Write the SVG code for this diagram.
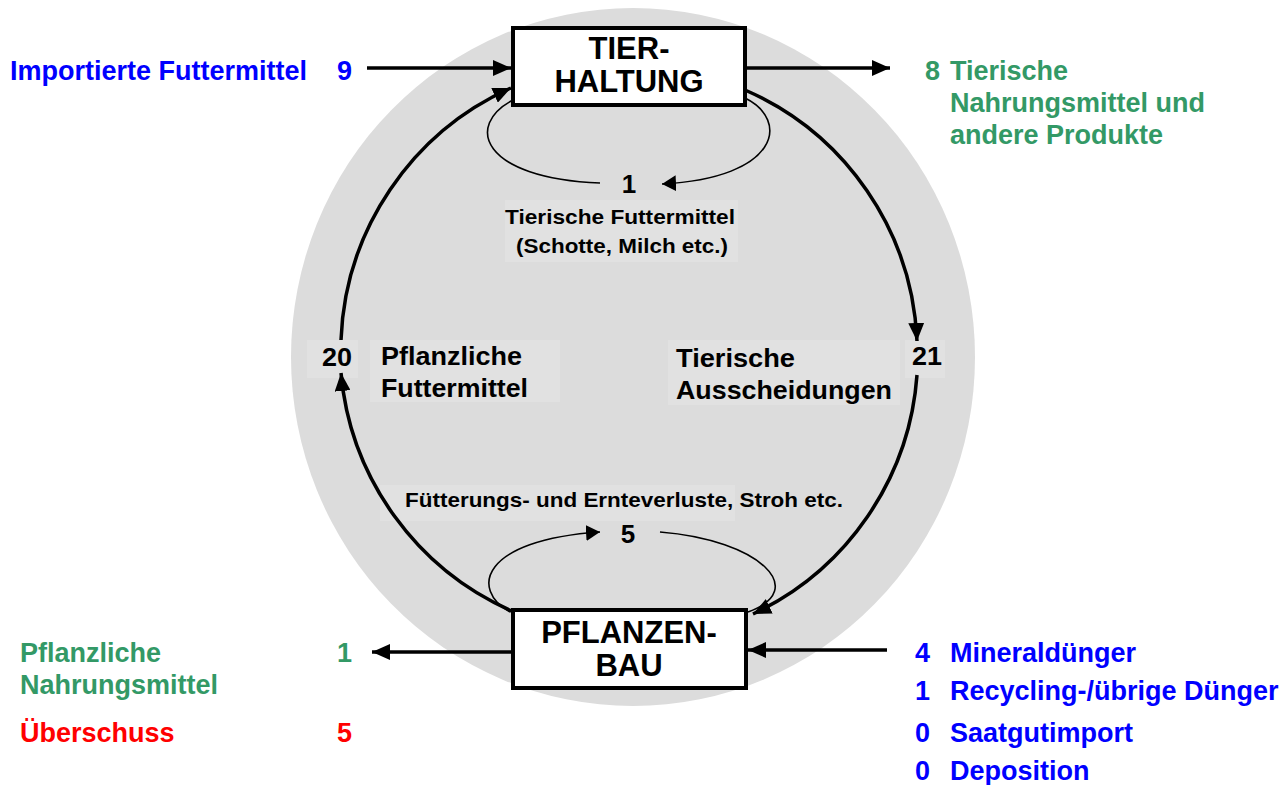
<svg xmlns="http://www.w3.org/2000/svg" width="1284" height="785" viewBox="0 0 1284 785">
<defs>
<style>
text{font-family:"Liberation Sans",Arial,sans-serif;font-weight:bold}
.big{font-size:27px}
.box{font-size:31px;fill:#000;text-anchor:middle}
.mid{font-size:26px;fill:#000}
.sm{font-size:21px;fill:#000}
.blue{fill:#0000ff}
.green{fill:#339966}
.red{fill:#ff0000}
.conn{fill:none;stroke:#000;stroke-width:3.5}
.thin{fill:none;stroke:#000;stroke-width:1.6}
.bg{fill:#e1e1e1}
.node{fill:#fff;stroke:#000;stroke-width:4}
</style>
<marker id="ah" markerUnits="userSpaceOnUse" markerWidth="20" markerHeight="16" refX="18" refY="8" orient="auto">
<path d="M0,0 L18,8 L0,16 z" fill="#000"/>
</marker>
<marker id="ahs" markerUnits="userSpaceOnUse" markerWidth="16" markerHeight="16" refX="14" refY="8" orient="auto">
<path d="M0,0 L14,8 L0,16 z" fill="#000"/>
</marker>
</defs>
<rect width="1284" height="785" fill="#fff"/>
<ellipse cx="633" cy="357" rx="342" ry="349" fill="#dcdcdc"/>
<g id="label-bgs">
<rect class="bg" x="307" y="340" width="51" height="38"/>
<rect class="bg" x="370" y="340" width="190" height="62"/>
<rect class="bg" x="668" y="340" width="232" height="65"/>
<rect class="bg" x="905" y="340" width="40" height="38"/>
<rect class="bg" x="505" y="200" width="233" height="62"/>
<rect class="bg" x="380" y="485" width="355" height="36"/>
</g>
<g id="connectors">
<path class="conn" d="M367,68 L511,68" marker-end="url(#ah)"/>
<path class="conn" d="M747,68 L890,68" marker-end="url(#ah)"/>
<path class="conn" d="M512,652 L372,652" marker-end="url(#ah)"/>
<path class="conn" d="M887,650 L748,650" marker-end="url(#ah)"/>
<path class="conn" d="M514,612 A288,288 0 0 1 341,373" marker-end="url(#ah)"/>
<path class="conn" d="M341,340 A288,288 0 0 1 511,88" marker-end="url(#ah)"/>
<path class="conn" d="M745,90 A287,287 0 0 1 917,341" marker-end="url(#ah)"/>
<path class="conn" d="M917,375 A287,287 0 0 1 753,614" marker-end="url(#ah)"/>
<path class="thin" d="M600,183 C480,178 465,125 513,100"/>
<path class="thin" d="M745,98 C790,120 780,178 662,184" marker-end="url(#ahs)"/>
<path class="thin" d="M510,612 C470,590 480,540 600,532" marker-end="url(#ahs)"/>
<path class="thin" d="M660,532 C760,540 810,590 748,612"/>
</g>
<g id="node-tierhaltung">
<rect class="node" x="513" y="28" width="232" height="77"/>
<text class="box" x="629" y="59">TIER-</text>
<text class="box" x="629" y="92">HALTUNG</text>
</g>
<g id="node-pflanzenbau">
<rect class="node" x="513" y="610" width="233" height="78"/>
<text class="box" x="629" y="643">PFLANZEN-</text>
<text class="box" x="629" y="676">BAU</text>
</g>
<g id="labels">
<text class="big blue" x="10" y="80" textLength="297" lengthAdjust="spacingAndGlyphs">Importierte Futtermittel</text>
<text class="big blue" x="337" y="80">9</text>
<text class="big green" x="925" y="80">8</text>
<text class="big green" x="950" y="80">Tierische</text>
<text class="big green" x="950" y="112">Nahrungsmittel und</text>
<text class="big green" x="950" y="144">andere Produkte</text>
<text class="mid" x="629" y="193" text-anchor="middle">1</text>
<text class="sm" x="505" y="224" textLength="230" lengthAdjust="spacingAndGlyphs">Tierische Futtermittel</text>
<text class="sm" x="516" y="253" textLength="212" lengthAdjust="spacingAndGlyphs">(Schotte, Milch etc.)</text>
<text class="mid" x="322" y="366" textLength="30" lengthAdjust="spacingAndGlyphs">20</text>
<text class="mid" x="381" y="365" textLength="141" lengthAdjust="spacingAndGlyphs">Pflanzliche</text>
<text class="mid" x="381" y="397" textLength="147" lengthAdjust="spacingAndGlyphs">Futtermittel</text>
<text class="mid" x="676" y="367" textLength="119" lengthAdjust="spacingAndGlyphs">Tierische</text>
<text class="mid" x="676" y="399" textLength="216" lengthAdjust="spacingAndGlyphs">Ausscheidungen</text>
<text class="mid" x="912" y="365" textLength="30" lengthAdjust="spacingAndGlyphs">21</text>
<text class="sm" x="405" y="507" textLength="438" lengthAdjust="spacingAndGlyphs">Fütterungs- und Ernteverluste, Stroh etc.</text>
<text class="mid" x="628" y="543" text-anchor="middle">5</text>
<text class="big green" x="20" y="662">Pflanzliche</text>
<text class="big green" x="20" y="694">Nahrungsmittel</text>
<text class="big green" x="337" y="662">1</text>
<text class="big red" x="20" y="742">Überschuss</text>
<text class="big red" x="337" y="742">5</text>
<text class="big blue" x="915" y="662">4</text>
<text class="big blue" x="950" y="662">Mineraldünger</text>
<text class="big blue" x="915" y="700">1</text>
<text class="big blue" x="950" y="700">Recycling-/übrige Dünger</text>
<text class="big blue" x="915" y="742">0</text>
<text class="big blue" x="950" y="742">Saatgutimport</text>
<text class="big blue" x="915" y="780">0</text>
<text class="big blue" x="950" y="780">Deposition</text>
</g>
</svg>
